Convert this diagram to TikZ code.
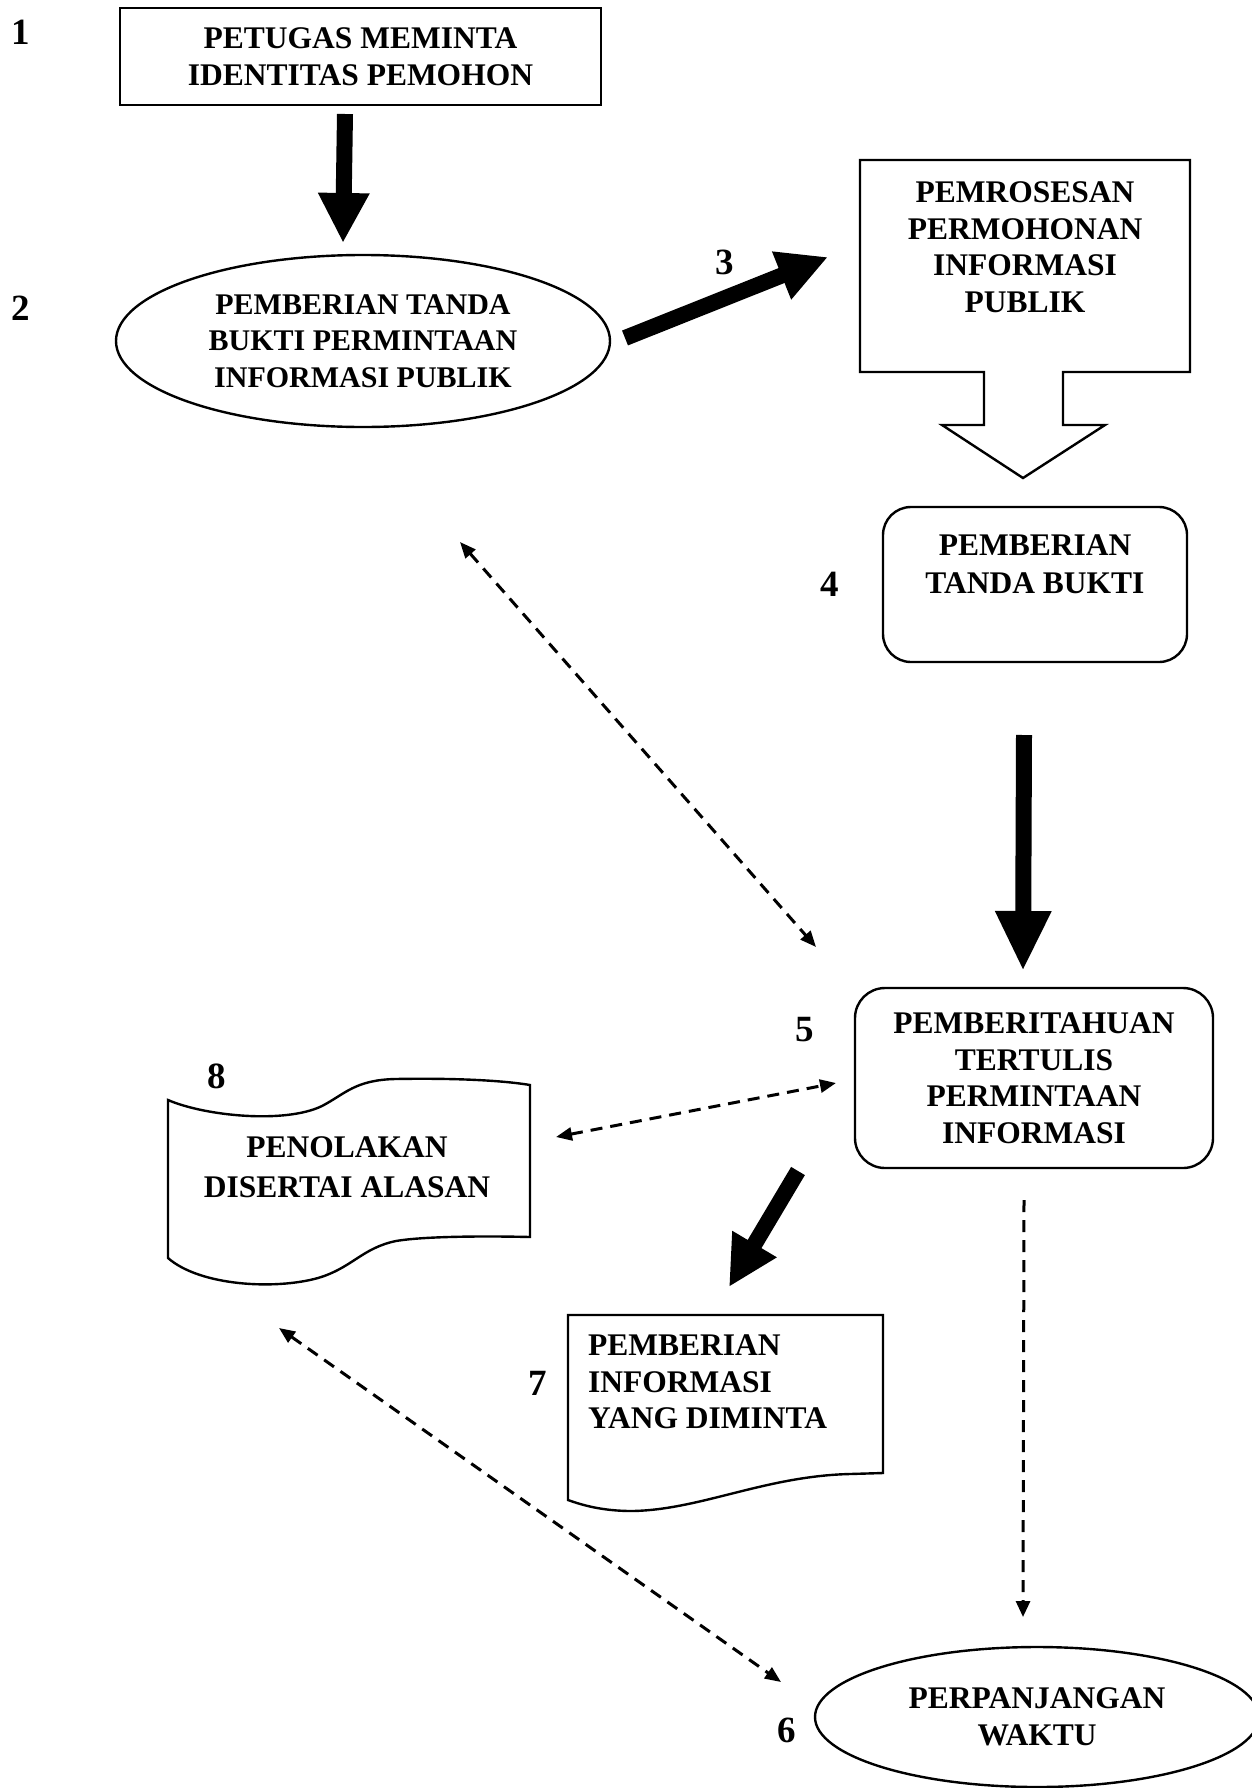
\documentclass[tikz,border=0pt]{standalone}
\usepackage{fontspec}
\setmainfont{Liberation Serif}
\usetikzlibrary{arrows.meta,shapes.geometric}
\begin{document}
\begin{tikzpicture}[x=1pt,y=-1pt,
  box/.style={draw, line width=2.4pt, inner sep=0pt},
  txt/.style={font=\fontsize{31.5}{36.5}\selectfont\bfseries, align=center, inner sep=0pt},
  num/.style={font=\fontsize{37}{40}\selectfont\bfseries, inner sep=0pt},
  bigarrow/.style={line width=16pt, -{Triangle[length=50pt,width=48pt]}},
  dashline/.style={line width=3pt, dash pattern=on 12pt off 8pt},
  twohead/.style={dashline, {Triangle[length=16pt,width=13pt]}-{Triangle[length=16pt,width=13pt]}},
  onehead/.style={dashline, -{Triangle[length=16pt,width=14pt]}}
]
\useasboundingbox (0,0) rectangle (1252,1788);

% labels
\node[num] (n1) at (21,32) {1};
\node[num] (n2) at (21,308) {2};
\node[num] (n3) at (725,262) {3};
\node[num] (n4) at (830,584) {4};
\node[num] (n5) at (805,1030) {5};
\node[num] (n6) at (787,1730) {6};
\node[num] (n7) at (538,1383) {7};
\node[num] (n8) at (217,1076) {8};

% 1
\node[box, txt, minimum width=481pt, minimum height=97pt] (b1) at (360.5,56.5)
  {PETUGAS MEMINTA\\IDENTITAS PEMOHON};

% 2
\node[box, ellipse, minimum width=494pt, minimum height=172pt,
  font=\fontsize{30}{36.5}\selectfont\bfseries, align=center] (b2) at (363,341)
  {PEMBERIAN TANDA\\BUKTI PERMINTAAN\\INFORMASI PUBLIK};

% 3 (callout)
\node[minimum width=330pt, minimum height=212pt, inner sep=0pt] (b3) at (1025,266) {};
\draw[line width=2.4pt, line join=miter]
  (860,160) -- (1190,160) -- (1190,372) -- (1063,372) -- (1063,425) -- (1105,425)
  -- (1023,478) -- (942,425) -- (984,425) -- (984,372) -- (860,372) -- cycle;
\node[txt] (b3t) at (1025,247) {PEMROSESAN\\PERMOHONAN\\INFORMASI\\PUBLIK};

% 4
\node[box, rounded corners=28pt, minimum width=304pt, minimum height=155pt] (b4) at (1035,584.5) {};
\node[txt, font=\fontsize{31.5}{38}\selectfont\bfseries] (b4t) at (1035,564) {PEMBERIAN\\TANDA BUKTI};

% 5
\node[box, txt, rounded corners=30pt, minimum width=358pt, minimum height=180pt] (b5) at (1034,1078)
  {PEMBERITAHUAN\\TERTULIS\\PERMINTAAN\\INFORMASI};

% 8 (tape)
\draw[line width=2.4pt]
  (168,1100) .. controls (205,1116) and (285,1124) .. (322,1106)
  .. controls (345,1094) and (355,1080) .. (395,1079)
  .. controls (450,1078) and (500,1080) .. (530,1085)
  -- (530,1237)
  .. controls (490,1236) and (425,1236) .. (396,1241)
  .. controls (362,1248) and (352,1268) .. (318,1278)
  .. controls (275,1290) and (200,1286) .. (168,1258) -- cycle;
\node[inner sep=0pt, minimum width=362pt, minimum height=160pt] (b8) at (349,1170) {};
\node[txt, font=\fontsize{31.5}{40}\selectfont\bfseries] (b8t) at (347,1167) {PENOLAKAN\\DISERTAI ALASAN};

% 7 (document)
\draw[line width=2.4pt]
  (568,1315) -- (883,1315) -- (883,1473) -- (850,1474)
  .. controls (765,1476) and (700,1510) .. (632,1511)
  .. controls (602,1511) and (582,1505) .. (568,1500) -- cycle;
\node[inner sep=0pt, minimum width=315pt, minimum height=190pt] (b7) at (725.5,1410) {};
\node[txt, align=left, anchor=west] (b7t) at (588,1382) {PEMBERIAN\\INFORMASI\\YANG DIMINTA};

% 6
\node[box, ellipse, minimum width=444pt, minimum height=140pt,
  font=\fontsize{31.5}{37}\selectfont\bfseries, align=center] (b6) at (1037,1717)
  {PERPANJANGAN\\WAKTU};

% connector end points
\coordinate (a1s) at (345,114);  \coordinate (a1e) at (343,243);
\coordinate (a3s) at (625,338);  \coordinate (a3e) at (828,257);
\coordinate (a4s) at (1024,735); \coordinate (a4e) at (1023,971);
\coordinate (a7s) at (798,1171); \coordinate (a7e) at (729,1287);
\coordinate (d25s) at (460,542); \coordinate (d25e) at (816,947);
\coordinate (d85s) at (556,1137); \coordinate (d85e) at (836,1083);
\coordinate (d56s) at (1024,1200); \coordinate (d56e) at (1023,1617);
\coordinate (d86s) at (279,1328); \coordinate (d86e) at (781,1682);

% thick arrows
\draw[bigarrow] (a1s) -- (a1e);
\draw[bigarrow] (a3s) -- (a3e);
\draw[bigarrow, -{Triangle[length=60pt,width=52pt]}] (a4s) -- (a4e);
\draw[bigarrow] (a7s) -- (a7e);

% dashed arrows
\draw[twohead] (d25s) -- (d25e);
\draw[twohead] (d85s) -- (d85e);
\draw[onehead] (d56s) -- (d56e);
\draw[twohead] (d86s) -- (d86e);
\end{tikzpicture}
\end{document}
